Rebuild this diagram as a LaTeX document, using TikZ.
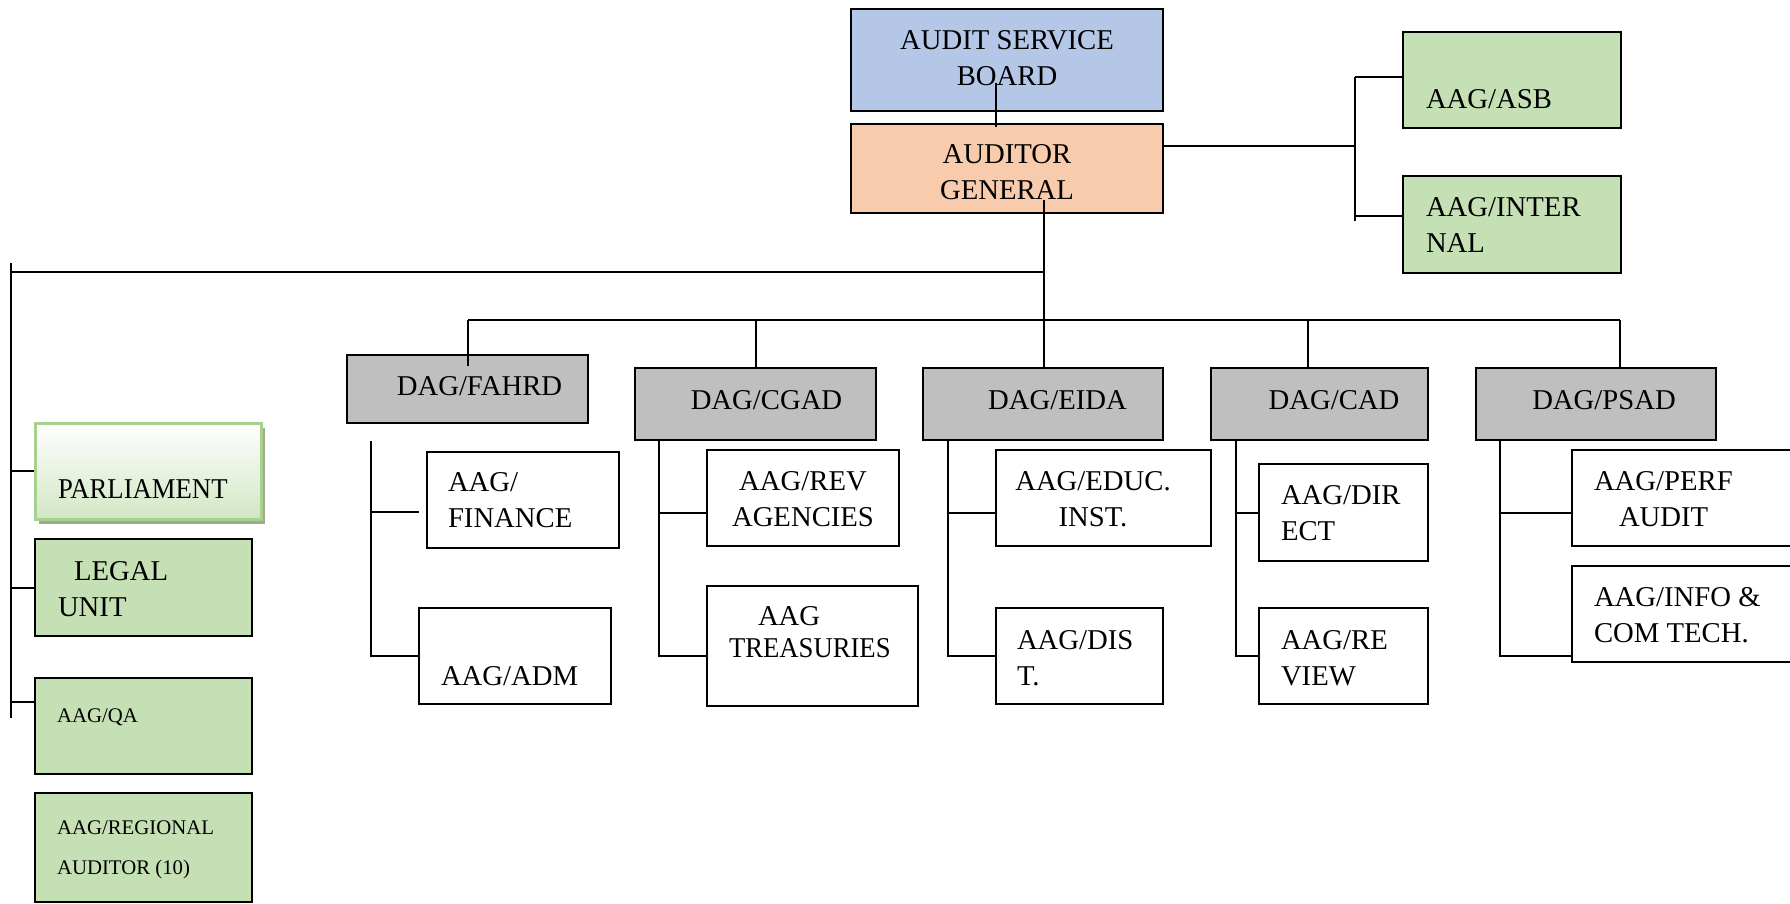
\documentclass[tikz,border=0pt]{standalone}
\usepackage{fontspec}
\setmainfont{Liberation Serif}
\usetikzlibrary{shadows}
\definecolor{asbblue}{HTML}{B4C7E7}
\definecolor{agorange}{HTML}{F8CBAD}
\definecolor{lgreen}{HTML}{C5E0B4}
\definecolor{dgrey}{HTML}{BFBFBF}
\definecolor{parlborder}{HTML}{A9D18E}
\definecolor{parlbottom}{HTML}{D2E7C4}
\definecolor{shadowc}{HTML}{9EAA94}
\begin{document}
\begin{tikzpicture}[x=0.5pt,y=-0.5pt,line width=1pt,
  box/.style={draw=black,line width=1pt,rectangle,inner sep=0pt},
  greenbox/.style={box,fill=lgreen},
  dagbox/.style={box,fill=dgrey},
  aagbox/.style={box,fill=white},
  txt/.style={inner sep=0pt,font=\fontsize{14.35}{18}\selectfont,align=left},
  smalltxt/.style={inner sep=0pt,font=\fontsize{10.4}{20}\selectfont,align=left}]
\useasboundingbox (0,0) rectangle (1790,904);

% top
\node[box,fill=asbblue,minimum width=156pt,minimum height=51pt] (asb) at (1007,60) {};
\node[box,fill=agorange,minimum width=156pt,minimum height=44.5pt] (ag) at (1007,168.5) {};
\node[greenbox,minimum width=109pt,minimum height=48pt] (aasb) at (1512,80) {};
\node[greenbox,minimum width=109pt,minimum height=48.5pt] (aint) at (1512,224.5) {};

% left column
\node[draw=parlborder,line width=1.5pt,rectangle,inner sep=0pt,top color=white,bottom color=parlbottom,
  drop shadow={shadow xshift=2pt,shadow yshift=-2.5pt,fill=shadowc,opacity=1},
  minimum width=113pt,minimum height=48pt] (parl) at (148,471) {};
\node[greenbox,minimum width=108.5pt,minimum height=48.5pt] (legal) at (143.5,587.5) {};
\node[greenbox,minimum width=108.5pt,minimum height=48pt] (qa) at (143.5,726) {};
\node[greenbox,minimum width=108.5pt,minimum height=54.5pt] (reg) at (143.5,847.5) {};

% DAG row
\node[dagbox,minimum width=120.5pt,minimum height=34pt] (fahrd) at (467.5,389) {};
\node[dagbox,minimum width=120.5pt,minimum height=36pt] (cgad) at (755.5,404) {};
\node[dagbox,minimum width=120pt,minimum height=36pt] (eida) at (1043,404) {};
\node[dagbox,minimum width=108.5pt,minimum height=36pt] (cad) at (1319.5,404) {};
\node[dagbox,minimum width=120pt,minimum height=36pt] (psad) at (1596,404) {};

% AAG boxes
\node[aagbox,minimum width=96pt,minimum height=48pt] (fin) at (523,500) {};
\node[aagbox,minimum width=96pt,minimum height=48pt] (adm) at (515,656) {};
\node[aagbox,minimum width=96pt,minimum height=48pt] (rev) at (803,498) {};
\node[aagbox,minimum width=105.5pt,minimum height=60pt] (tre) at (812.5,646) {};
\node[aagbox,minimum width=107.5pt,minimum height=48pt] (edu) at (1103.5,498) {};
\node[aagbox,minimum width=83.5pt,minimum height=48pt] (dist) at (1079.5,656) {};
\node[aagbox,minimum width=84.5pt,minimum height=48.5pt] (dir) at (1343.5,512.5) {};
\node[aagbox,minimum width=84.5pt,minimum height=48pt] (revw) at (1343.5,656) {};
\node[aagbox,minimum width=111.5pt,minimum height=48pt] (perf) at (1683.5,498) {};
\node[aagbox,minimum width=111.5pt,minimum height=48pt] (info) at (1683.5,614) {};

% texts
\node[txt,align=center] (asbt) at (1007,58) {AUDIT SERVICE\\BOARD};
\node[txt,align=center] (agt) at (1007,172) {AUDITOR\\GENERAL};
\node[txt,anchor=west] (aasbt) at (1425,99) {AAG/ASB};
\node[txt,anchor=west] (aintt) at (1425,225) {AAG/INTER\\NAL};
\node[txt,anchor=west] (parlt) at (57,489) {\scalebox{0.93}[1]{PARLIAMENT}};
\node[txt,anchor=west] (legalt) at (57,589) {\hspace*{8pt}LEGAL\\UNIT};
\node[smalltxt,anchor=west] (qat) at (56,717) {AAG/QA};
\node[smalltxt,anchor=west] (regt) at (56,850) {AAG/REGIONAL\\AUDITOR (10)};
\node[txt] (fahrdt) at (479.5,386) {DAG/FAHRD};
\node[txt] (cgadt) at (766.5,400) {DAG/CGAD};
\node[txt] (eidat) at (1057.5,400) {DAG/EIDA};
\node[txt] (cadt) at (1334,400) {DAG/CAD};
\node[txt] (psadt) at (1604,400) {DAG/PSAD};
\node[txt,anchor=west] (fint) at (447,500) {AAG/\\FINANCE};
\node[txt,anchor=west] (admt) at (440,676) {AAG/ADM};
\node[txt,align=center] (revt) at (803,499) {AAG/REV\\AGENCIES};
\node[txt,anchor=west,font=\fontsize{14.35}{16}\selectfont] (tret) at (728,632) {\hspace*{14.5pt}AAG\\\scalebox{0.93}[1]{TREASURIES}};
\node[txt,align=center] (edut) at (1093,499) {AAG/EDUC.\\INST.};
\node[txt,anchor=west] (distt) at (1016,658) {AAG/DIS\\T.};
\node[txt,anchor=west] (dirt) at (1280,513.5) {AAG/DIR\\ECT};
\node[txt,anchor=west] (revwt) at (1280,658) {AAG/RE\\VIEW};
\node[txt,anchor=west] (perft) at (1593,499) {AAG/PERF\\\hspace*{12.5pt}AUDIT};
\node[txt,anchor=west] (infot) at (1593,615.5) {AAG/INFO \&\\COM TECH.};

% connectors: top
\coordinate (ja) at (996,83);
\draw (ja) -- ([yshift=-2pt]ja |- ag.north);
\coordinate (rm) at (1355,146);
\coordinate (rv1) at (1355,77);
\coordinate (rv2) at (1355,221);
\coordinate (rv3) at (1355,216);
\draw (rm -| ag.east) -- (rm);
\draw (rv1) -- (rv2);
\draw (rv1) -- (rv1 -| aasb.west);
\draw (rv3) -- (rv3 -| aint.west);

% AG down and left bus
\coordinate (agd) at (1044,200);
\draw (agd) -- (agd |- eida.north);
\coordinate (lb) at (1044,272);
\coordinate (lbl) at (11,272);
\coordinate (lt) at (11,263);
\coordinate (lbot) at (11,718);
\draw (lb) -- (lbl);
\draw (lt) -- (lbot);
\draw (lbot |- parl.west) -- (parl.west);
\draw (lbot |- legal.west) -- (legal.west);
\coordinate (qaj) at (11,702);
\draw (qaj) -- (qaj -| qa.west);

% DAG bus
\coordinate (b1) at (468,320);
\coordinate (b4) at (1308,320);
\coordinate (b5) at (1620,320);
\draw (b1) -- (b5);
\draw (b1) -- ([yshift=-6pt]b1 |- fahrd.north);
\draw (b1 -| cgad.north) -- (cgad.north);
\draw (b4) -- (b4 |- cad.north);
\draw (b5) -- (b5 |- psad.north);

% FAHRD subtree
\coordinate (fa1) at (371,441);
\coordinate (fa2) at (371,512);
\coordinate (fae) at (419,512);
\draw (fa1) -- (fa1 |- adm.west) -- (adm.west);
\draw (fa2) -- (fae);

% CGAD subtree
\coordinate (cg1) at (659,513);
\coordinate (cg2) at (659,656);
\draw (cg1 |- cgad.south) -- (cg2) -- (cg2 -| tre.west);
\draw (cg1) -- (cg1 -| rev.west);

% EIDA subtree
\coordinate (ei1) at (948,513);
\coordinate (ei2) at (948,656);
\draw (ei1 |- eida.south) -- (ei2) -- (ei2 -| dist.west);
\draw (ei1) -- (ei1 -| edu.west);

% CAD subtree
\coordinate (ca1) at (1236,513);
\coordinate (ca2) at (1236,656);
\draw (ca1 |- cad.south) -- (ca2) -- (ca2 -| revw.west);
\draw (ca1) -- (ca1 -| dir.west);

% PSAD subtree
\coordinate (ps1) at (1500,513);
\coordinate (ps2) at (1500,656);
\draw (ps1 |- psad.south) -- (ps2) -- (ps2 -| info.west);
\draw (ps1) -- (ps1 -| perf.west);
\end{tikzpicture}
\end{document}
